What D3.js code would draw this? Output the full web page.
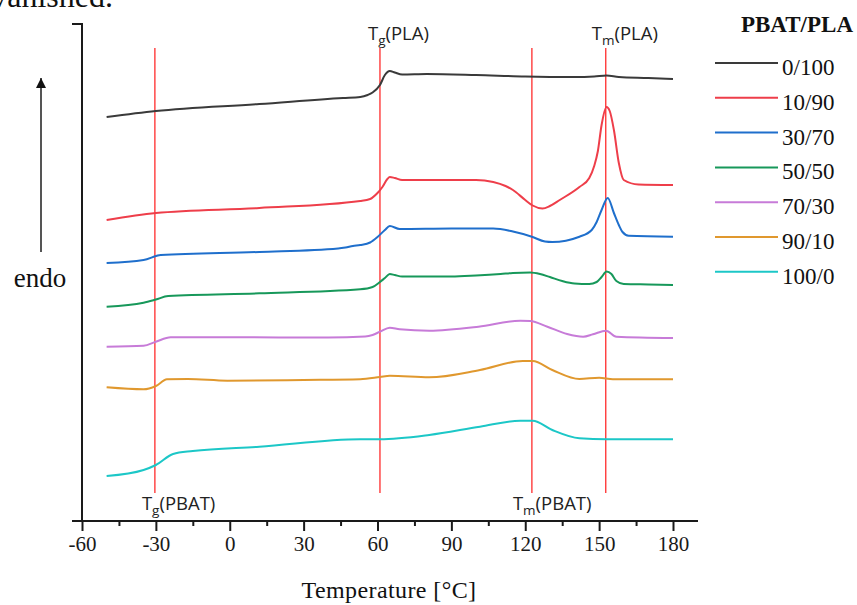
<!DOCTYPE html>
<html>
<head>
<meta charset="utf-8">
<script src="https://cdn.jsdelivr.net/npm/d3@7"></script>
<style>
  html, body { margin: 0; padding: 0; background: #fff; }
  svg { display: block; }
</style>
</head>
<body>
<svg id="chart" width="857" height="605"></svg>
<script>
// ---------- DATA (temperature °C, heat flow in arbitrary units, curves offset) ----------
const seriesNames = ["0/100", "10/90", "30/70", "50/50", "70/30", "90/10", "100/0"];
const seriesColors = ["#3a3a3a", "#ee3e4a", "#1f6fcc", "#17985a", "#c77bd8", "#e0982e", "#1cc7c7"];

const s0_100 = [[-50,404],[-30,410],[12,417],[46,423],[53,424],[56,426],[58,428.5],[61,436],[63,446],[65,450],[67,448.5],[70,446.5],[80,447],[100,446],[120,444.5],[140,444],[148,444.5],[153,445.5],[158,444],[170,443],[180,442]];
const s10_90 = [[-50,301],[-30,308],[12,313],[53,320],[57,322],[60,328],[62,334],[64,342],[65,344],[67,343],[70,341],[100,341],[107,339],[112,335],[115,331],[120,321],[123,315.5],[127,312.5],[130,315],[134,321],[142,334],[146,343],[148,355],[149.5,370],[151,396],[153,414],[154.3,410],[156,391],[158,358],[160,341],[166,336.5],[180,336]];
const s30_70 = [[-50,258],[-35,261],[-28,266],[12,269],[44,272.5],[47,273.5],[50,275],[53,276],[57,278.5],[60,284],[63,291],[65,295],[69,292],[90,292.5],[107,292.5],[115,289.5],[122.7,284.3],[128,279.5],[131,279],[142,284.3],[147,291],[149,299],[151,311],[153.5,323],[156,308],[158,296],[159.5,289],[162,285.3],[180,284.3]];
const s50_50 = [[-50,214.3],[-35,218.3],[-30,221.5],[-25,225],[12,227.7],[53,231.7],[58,234],[61,239],[63,243],[65,247],[67,246],[70,244.5],[90,244.5],[100,245.5],[110,247],[115,248],[122,248.5],[126,247],[130,244],[135,240],[140,237.5],[146,237],[149,239],[151,244],[153,249.5],[155,247],[157,240],[160,237],[170,236.5],[180,236]];
const s70_30 = [[-50,174.3],[-35,175.3],[-30,179.3],[-24,183.7],[0,183.7],[40,183.5],[55,184.5],[58,186],[61,189.3],[65,193.3],[69,191.7],[81,190.3],[101,194.3],[118,200.3],[122,200],[129,194.3],[137,187],[143.5,184.3],[147.5,186.7],[152.8,190.3],[157,184.3],[180,183]];
const s90_10 = [[-50,133.7],[-35,131.7],[-30,135],[-25.5,141.7],[-17,142],[-1,140.3],[30,141],[53,141.7],[61,144],[65,145.3],[81,143.7],[101.6,151],[119,160],[123,160],[131,151],[142,142],[150,143.3],[155.6,141.7],[180,141.7]];
const s100_0 = [[-50,45],[-35,51],[-30,56],[-23,67],[-15,70],[12,74.3],[53,81.7],[61,81.7],[81,86],[101.6,94.3],[118,100.3],[123,100.3],[131,91],[142,82.7],[153,81.7],[180,81.7]];
const seriesValues = [s0_100, s10_90, s30_70, s50_50, s70_30, s90_10, s100_0];

const majorTicks = [-60, -30, 0, 30, 60, 90, 120, 150, 180];
const minorTicks = [-45, -15, 15, 45, 75, 105, 135, 165];

const markerNames = ["PBAT", "PLA", "PBAT", "PLA"];
const markerSubs = ["g", "g", "m", "m"];
const markerTemps = [-30.4, 61, 122.7, 152.7];
const markerAtTop = [false, true, false, true];

// ---------- LAYOUT ----------
const svg = d3.select("#chart");
const x = d3.scaleLinear().domain([-60, 180]).range([82, 673]);
const y = d3.scaleLinear().domain([0, 500]).range([521, 21]);
const serif = "'Palatino Linotype', 'Book Antiqua', Palatino, 'Liberation Serif', 'DejaVu Serif', serif";
const sans = "'Open Sans', 'Liberation Sans', sans-serif";

// cut-off caption text from page above
svg.append("text").attr("x", 113).attr("y", 6.5).attr("text-anchor", "end")
  .attr("font-family", serif).attr("font-size", 32).attr("fill", "#111").text("vanished.");

// red reference lines
const markerLabelDx = [-13, -12, -19, -14];
svg.append("g").selectAll("line").data(markerTemps).join("line")
  .attr("x1", d => x(d)).attr("x2", d => x(d))
  .attr("y1", 48).attr("y2", 493)
  .attr("stroke", "#ff1a1a").attr("stroke-width", 1.2);

const ml = svg.append("g").selectAll("text").data(markerTemps).join("text")
  .attr("x", (d, i) => x(d) + markerLabelDx[i])
  .attr("y", (d, i) => markerAtTop[i] ? 40 : 510)
  .attr("font-family", sans).attr("font-size", 18.5).attr("fill", "#222");
ml.append("tspan").text("T");
ml.append("tspan").attr("font-size", 13.5).attr("dy", 5).text((d, i) => markerSubs[i]);
ml.append("tspan").attr("dy", -5).text((d, i) => "(" + markerNames[i] + ")");

// curves
const line = d3.line().x(d => x(d[0])).y(d => y(d[1])).curve(d3.curveMonotoneX);
svg.append("g").selectAll("path").data(seriesValues).join("path")
  .attr("d", line).attr("fill", "none")
  .attr("stroke", (d, i) => seriesColors[i]).attr("stroke-width", 2)
  .attr("stroke-linejoin", "round");

// axes
const axisColor = "#1a1a1a";
svg.append("line").attr("x1", 72).attr("x2", 698).attr("y1", 521).attr("y2", 521)
  .attr("stroke", axisColor).attr("stroke-width", 2);
svg.append("line").attr("x1", 82).attr("x2", 82).attr("y1", 23).attr("y2", 521)
  .attr("stroke", axisColor).attr("stroke-width", 2);
svg.append("line").attr("x1", 72).attr("x2", 83).attr("y1", 24).attr("y2", 24)
  .attr("stroke", axisColor).attr("stroke-width", 2);

const xAxis = d3.axisBottom(x).tickValues(majorTicks).tickSize(10).tickSizeOuter(0)
  .tickFormat(d3.format("d"));
const gx = svg.append("g").attr("transform", "translate(0,521)").call(xAxis);
gx.select(".domain").remove();
gx.selectAll(".tick line").attr("stroke", axisColor).attr("stroke-width", 2);
gx.selectAll(".tick text").attr("font-family", serif).attr("font-size", 21)
  .attr("fill", "#1a1a1a").attr("y", 15).attr("dy", "0.71em");
gx.selectAll(".tick text").text(d => d < 0 ? "-" + Math.abs(d) : d);

const xMinor = d3.axisBottom(x).tickValues(minorTicks).tickSize(5).tickFormat("");
const gm = svg.append("g").attr("transform", "translate(0,521)").call(xMinor);
gm.select(".domain").remove();
gm.selectAll(".tick line").attr("stroke", axisColor).attr("stroke-width", 2);

svg.append("text").attr("x", 389).attr("y", 598).attr("text-anchor", "middle")
  .attr("font-family", serif).attr("font-size", 24).attr("letter-spacing", 0.4)
  .attr("fill", "#111").text("Temperature [°C]");

// endo arrow
svg.append("defs").append("marker").attr("id", "arr").attr("viewBox", "0 0 10 10")
  .attr("refX", 10).attr("refY", 5).attr("markerWidth", 5).attr("markerHeight", 5)
  .attr("orient", "auto").append("path").attr("d", "M0,0 L10,5 L0,10 Z").attr("fill", "#111");
svg.append("line").attr("x1", 41).attr("x2", 41).attr("y1", 252).attr("y2", 78)
  .attr("stroke", "#555").attr("stroke-width", 2).attr("marker-end", "url(#arr)");
svg.append("text").attr("x", 40).attr("y", 287).attr("text-anchor", "middle")
  .attr("font-family", serif).attr("font-size", 27).attr("fill", "#111").text("endo");

// legend
svg.append("text").attr("x", 797).attr("y", 32).attr("text-anchor", "middle")
  .attr("font-family", serif).attr("font-size", 23).attr("font-weight", "bold")
  .attr("fill", "#111").text("PBAT/PLA");
const lg = svg.append("g").selectAll("g").data(seriesNames).join("g")
  .attr("transform", (d, i) => `translate(0,${63 + i * 34.8})`);
lg.append("line").attr("x1", 715).attr("x2", 778).attr("y1", 0).attr("y2", 0)
  .attr("stroke", (d, i) => seriesColors[i]).attr("stroke-width", 2);
lg.append("text").attr("x", 782).attr("y", 12).attr("font-family", serif)
  .attr("font-size", 23).attr("fill", "#111").text(d => d);
</script>
</body>
</html>
